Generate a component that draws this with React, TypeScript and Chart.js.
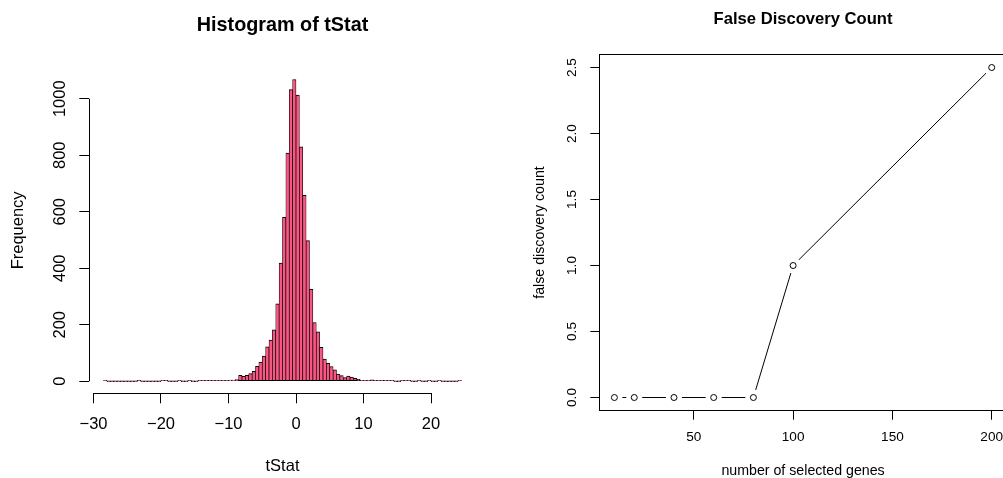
import React, { useEffect, useRef } from 'react';
import { Chart, registerables } from 'chart.js';

Chart.register(...registerables);

// ---------- Histogram data ----------
const HIST_TITLE = 'Histogram of tStat';
const HIST_X_LABEL = 'tStat';
const HIST_Y_LABEL = 'Frequency';
const BIN_START = -28.5;
const BIN_WIDTH = 0.5;
const COUNTS = [
  1, 0, 0, 0, 0, 0, 0, 0, 0, 0,
  1, 0, 0, 0, 0, 0, 0, 1, 1, 0,
  0, 0, 1, 0, 0, 1, 0, 0, 1, 1,
  2, 1, 1, 2, 1, 2, 3, 4, 4, 6,
  21, 17, 21, 27, 35, 53, 68, 89, 122, 146,
  182, 274, 418, 580, 808, 1032, 1068, 1013, 830, 658,
  498, 325, 208, 175, 120, 78, 63, 52, 40, 25,
  20, 13, 18, 15, 10, 7, 3, 2, 2, 5,
  2, 1, 1, 1, 2, 1, 0, 0, 1, 2,
  1, 0, 0, 1, 0, 0, 1, 0, 0, 1,
  0, 0, 0, 0, 0, 1,
];
const HIST_X_TICKS = [-30, -20, -10, 0, 10, 20];
const HIST_Y_TICKS = [0, 200, 400, 600, 800, 1000];

// ---------- False discovery data ----------
const FDC_TITLE = 'False Discovery Count';
const FDC_X_LABEL = 'number of selected genes';
const FDC_Y_LABEL = 'false discovery count';
const GENES = [10, 20, 40, 60, 80, 100, 200];
const FALSE_DISCOVERIES = [0, 0, 0, 0, 0, 1, 2.5];
const FDC_X_TICKS = [50, 100, 150, 200];
const FDC_Y_TICKS = [0, 0.5, 1, 1.5, 2, 2.5];

const FONT = "'Liberation Sans', Arial, Helvetica, sans-serif";
const BAR_FILL = '#FA5683';

const fmtMinus = (v: number) => (v < 0 ? '\u2212' + Math.abs(v) : String(v));
const pad4 = (lo: number, hi: number) => {
  const r = hi - lo;
  return { min: lo - 0.04 * r, max: hi + 0.04 * r };
};

const rAxesPlugin = {
  id: 'rAxes',
  afterDraw(chart: any) {
    const { ctx, chartArea, scales } = chart;
    const x = scales.x;
    const y = scales.y;
    const xs = x.ticks;
    const ys = y.ticks;
    const a = (v: number) => Math.round(v) + 0.5;
    ctx.save();
    ctx.strokeStyle = '#000';
    ctx.lineWidth = 1;
    ctx.beginPath();
    ctx.moveTo(x.getPixelForValue(xs[0].value), a(chartArea.bottom));
    ctx.lineTo(x.getPixelForValue(xs[xs.length - 1].value), a(chartArea.bottom));
    ctx.moveTo(a(chartArea.left), y.getPixelForValue(ys[0].value));
    ctx.lineTo(a(chartArea.left), y.getPixelForValue(ys[ys.length - 1].value));
    ctx.stroke();
    ctx.restore();
  },
};

const boxPlugin = {
  id: 'rBox',
  afterDraw(chart: any) {
    const { ctx, chartArea } = chart;
    const a = (v: number) => Math.round(v) + 0.5;
    ctx.save();
    ctx.strokeStyle = '#000';
    ctx.lineWidth = 1;
    ctx.strokeRect(
      a(chartArea.left),
      a(chartArea.top),
      Math.round(chartArea.right - chartArea.left),
      Math.round(chartArea.bottom - chartArea.top)
    );
    ctx.restore();
  },
};

function histConfig(): any {
  const pts = COUNTS.map((c, i) => ({ x: BIN_START + BIN_WIDTH * (i + 0.5), y: c }));
  const xr = pad4(BIN_START, BIN_START + BIN_WIDTH * COUNTS.length);
  const yr = pad4(0, Math.max(...COUNTS));
  const tickFont = { family: FONT, size: 16.5, lineHeight: 1.2 };
  const grid = {
    display: true,
    drawOnChartArea: false,
    drawTicks: true,
    tickLength: 10,
    color: '#000',
    lineWidth: 1,
    offset: false,
  };
  return {
    type: 'bar',
    data: {
      datasets: [
        {
          data: pts,
          backgroundColor: BAR_FILL,
          borderColor: '#000',
          borderWidth: { top: 1, left: 0.7, right: 0.7, bottom: 1 },
          borderSkipped: false,
          minBarLength: 1,
          barPercentage: 1,
          categoryPercentage: 1,
        },
      ],
    },
    options: {
      responsive: false,
      animation: false,
      devicePixelRatio: 1,
      layout: { padding: { left: 0, right: 26.3, top: 0, bottom: 0 }, autoPadding: false },
      plugins: {
        legend: { display: false },
        tooltip: { enabled: false },
        title: {
          display: true,
          text: HIST_TITLE,
          fullSize: false,
          color: '#000',
          font: { family: FONT, size: 19.8, weight: 'bold', lineHeight: 1.2 },
          padding: { top: 14.1, bottom: 29.6 },
        },
      },
      scales: {
        x: {
          type: 'linear',
          offset: false,
          min: xr.min,
          max: xr.max,
          afterBuildTicks: (s: any) => {
            s.ticks = HIST_X_TICKS.map((v) => ({ value: v }));
          },
          afterFit: (s: any) => {
            s.height = 84.7;
          },
          grid,
          border: { display: false },
          ticks: {
            color: '#000',
            font: tickFont,
            padding: 11.1,
            maxRotation: 0,
            autoSkip: false,
            callback: (v: any) => fmtMinus(Number(v)),
          },
          title: {
            display: true,
            text: HIST_X_LABEL,
            color: '#000',
            font: tickFont,
            padding: { top: 0, bottom: 2.1 },
          },
        },
        y: {
          type: 'linear',
          min: yr.min,
          max: yr.max,
          afterBuildTicks: (s: any) => {
            s.ticks = HIST_Y_TICKS.map((v) => ({ value: v }));
          },
          afterFit: (s: any) => {
            s.width = 89.3;
          },
          grid,
          border: { display: false },
          ticks: {
            color: '#000',
            font: tickFont,
            minRotation: 90,
            maxRotation: 90,
            crossAlign: 'center',
            padding: 0.95,
            autoSkip: false,
            callback: (v: any) => String(v),
          },
          title: {
            display: true,
            text: HIST_Y_LABEL,
            color: '#000',
            font: tickFont,
            padding: { top: 8.4, bottom: 0 },
          },
        },
      },
    },
    plugins: [rAxesPlugin],
  };
}

function fdcConfig(): any {
  const pts = GENES.map((g, i) => ({ x: g, y: FALSE_DISCOVERIES[i] }));
  const xr = pad4(Math.min(...GENES), Math.max(...GENES));
  const yr = pad4(Math.min(...FALSE_DISCOVERIES), Math.max(...FALSE_DISCOVERIES));
  const tickFont = { family: FONT, size: 13.6, lineHeight: 1.2 };
  const labFont = { family: FONT, size: 14.2, lineHeight: 1.0 };
  const grid = { display: true, drawOnChartArea: false, drawTicks: true, tickLength: 9, color: '#000', lineWidth: 1 };
  return {
    type: 'scatter',
    data: {
      datasets: [
        {
          data: pts,
          showLine: false,
          pointRadius: 3,
          pointBorderWidth: 1,
          pointBorderColor: '#000',
          pointBackgroundColor: '#fff',
          order: 0,
        },
        {
          data: pts,
          showLine: false,
          pointRadius: 8,
          pointBorderWidth: 0,
          pointBorderColor: '#fff',
          pointBackgroundColor: '#fff',
          order: 1,
        },
        {
          data: pts,
          showLine: true,
          borderColor: '#000',
          borderWidth: 1,
          pointRadius: 0,
          order: 2,
        },
      ],
    },
    options: {
      responsive: false,
      animation: false,
      devicePixelRatio: 1,
      layout: { padding: { left: 0, right: 14.2, top: 0, bottom: 0 }, autoPadding: false },
      plugins: {
        legend: { display: false },
        tooltip: { enabled: false },
        title: {
          display: true,
          text: FDC_TITLE,
          fullSize: false,
          color: '#000',
          font: { family: FONT, size: 16.6, weight: 'bold', lineHeight: 1.2 },
          padding: { top: 9.3, bottom: 25.1 },
        },
      },
      scales: {
        x: {
          type: 'linear',
          min: xr.min,
          max: xr.max,
          afterBuildTicks: (s: any) => {
            s.ticks = FDC_X_TICKS.map((v) => ({ value: v }));
          },
          afterFit: (s: any) => {
            s.height = 67.3;
          },
          grid,
          border: { display: false },
          ticks: {
            color: '#000',
            font: tickFont,
            padding: 9.5,
            maxRotation: 0,
            autoSkip: false,
            callback: (v: any) => String(v),
          },
          title: {
            display: true,
            text: FDC_X_LABEL,
            color: '#000',
            font: labFont,
            padding: { top: 0, bottom: 0 },
          },
        },
        y: {
          type: 'linear',
          min: yr.min,
          max: yr.max,
          afterBuildTicks: (s: any) => {
            s.ticks = FDC_Y_TICKS.map((v) => ({ value: v }));
          },
          afterFit: (s: any) => {
            s.width = 98.3;
          },
          grid,
          border: { display: false },
          ticks: {
            color: '#000',
            font: tickFont,
            minRotation: 90,
            maxRotation: 90,
            crossAlign: 'center',
            padding: 8.6,
            autoSkip: false,
            callback: (v: any) => Number(v).toFixed(1),
          },
          title: {
            display: true,
            text: FDC_Y_LABEL,
            color: '#000',
            font: { family: FONT, size: 14.2, lineHeight: 1.2 },
            padding: { top: 30.6, bottom: 0 },
          },
        },
      },
    },
    plugins: [boxPlugin],
  };
}

export default function App() {
  const leftRef = useRef<HTMLCanvasElement | null>(null);
  const rightRef = useRef<HTMLCanvasElement | null>(null);

  useEffect(() => {
    const charts: Chart[] = [];
    if (leftRef.current) charts.push(new Chart(leftRef.current, histConfig()));
    if (rightRef.current) charts.push(new Chart(rightRef.current, fdcConfig()));
    return () => {
      charts.forEach((c) => c.destroy());
    };
  }, []);

  return (
    <div
      style={{
        position: 'fixed',
        left: 0,
        top: 0,
        width: 1003,
        height: 478,
        overflow: 'hidden',
        background: '#fff',
      }}
    >
      <canvas ref={leftRef} width={502} height={478} style={{ position: 'absolute', left: 0, top: 0 }} />
      <canvas ref={rightRef} width={520} height={478} style={{ position: 'absolute', left: 501, top: 0 }} />
    </div>
  );
}
